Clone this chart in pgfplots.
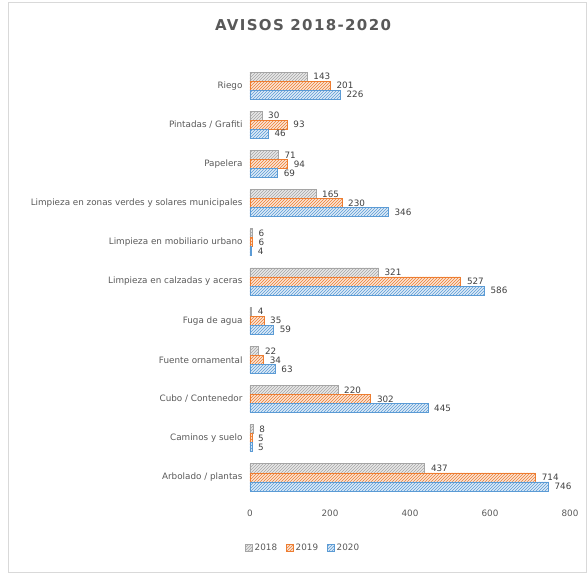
\documentclass[border=0pt]{standalone}
\usepackage{fontspec}
\setmainfont{DejaVu Sans}
\usepackage{pgfplots}
\pgfplotsset{compat=1.18}
\usepackage{pgfplotstable}
\usetikzlibrary{patterns}

\definecolor{c18}{HTML}{A5A5A5}
\definecolor{c19}{HTML}{ED7D31}
\definecolor{c20}{HTML}{5B9BD5}
\definecolor{txt}{HTML}{595959}
\definecolor{lbl}{HTML}{404040}
\definecolor{frame}{HTML}{D9D9D9}

% y: 0 = bottom category
\pgfplotstableread{
y  v2018 v2019 v2020
0  437   714   746
1  8     5     5
2  220   302   445
3  22    34    63
4  4     35    59
5  321   527   586
6  6     6     4
7  165   230   346
8  71    94    69
9  30    93    46
10 143   201   226
}\avisos

\begin{document}
\begin{tikzpicture}[x=1pt,y=1pt]
\path[use as bounding box] (0,0) rectangle (587,574);
\draw[frame, line width=0.8pt] (8,2) rectangle (586.6,572);
\node[text=txt, font=\fontsize{15}{17}\selectfont\bfseries\addfontfeatures{LetterSpace=9}] at (303,549) {AVISOS 2018-2020};
\begin{axis}[
  at={(250pt,77pt)}, anchor=south west,
  scale only axis, width=320pt, height=431pt,
  xbar, bar width=0.23,
  xmin=0, xmax=800, ymin=-0.5, ymax=10.5,
  axis line style={draw=none},
  major tick length=0pt,
  xtick={0,200,...,800},
  ytick={0,...,10},
  yticklabels={Arbolado / plantas, Caminos y suelo, Cubo / Contenedor, Fuente ornamental, Fuga de agua, Limpieza en calzadas y aceras, Limpieza en mobiliario urbano, Limpieza en zonas verdes y solares municipales, Papelera, Pintadas / Grafiti, Riego},
  ticklabel style={font=\fontsize{8.8}{10}\selectfont, text=txt},
  xticklabel style={yshift=-9pt},
  yticklabel style={xshift=-4pt},
  /pgf/number format/assume math mode=true,
  point meta=x,
  nodes near coords,
  nodes near coords style={font=\fontsize{8.8}{10}\selectfont, text=lbl, anchor=west, xshift=2.5pt},
  legend columns=3,
  legend style={at={(0.166,-0.118)}, anchor=center, draw=none, font=\fontsize{8.8}{10}\selectfont, text=txt,
    /tikz/every even column/.append style={column sep=7pt}},
  legend image code/.code={\draw[#1, line width=0.6pt] (0pt,-3.5pt) rectangle (7pt,3.5pt);},
]
\addplot[draw=c18, fill=c18!25, line width=0.8pt, postaction={pattern=north east lines, pattern color=c18}, bar shift=0.23]
  table[x=v2018, y=y]{\avisos};
\addplot[draw=c19, fill=c19!20, line width=0.8pt, postaction={pattern=north east lines, pattern color=c19}, bar shift=0]
  table[x=v2019, y=y]{\avisos};
\addplot[draw=c20, fill=c20!20, line width=0.8pt, postaction={pattern=north east lines, pattern color=c20}, bar shift=-0.23]
  table[x=v2020, y=y]{\avisos};
\legend{2018, 2019, 2020}
\end{axis}
\end{tikzpicture}
\end{document}
